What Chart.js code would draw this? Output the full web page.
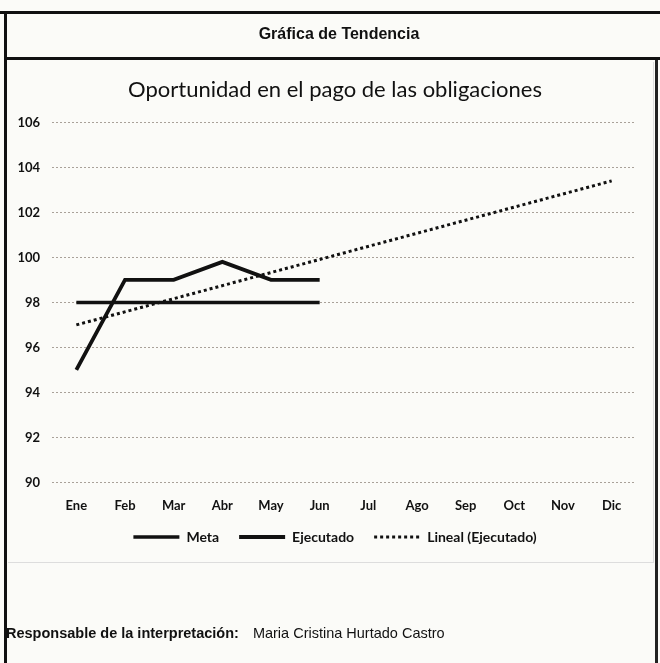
<!DOCTYPE html>
<html>
<head>
<meta charset="utf-8">
<script src="https://cdn.jsdelivr.net/npm/chart.js@4"></script>
<style>
    html, body { margin: 0; padding: 0; background: #fbfbf8; }
    .page { position: relative; width: 660px; height: 663px; overflow: hidden; }
    .top-line { position: absolute; left: 0; top: 11px; width: 660px; height: 3px; background: #111; }
    .left-line { position: absolute; left: 4px; top: 11px; width: 3px; height: 652px; background: #111; }
    .right-line { position: absolute; left: 655px; top: 57px; width: 3px; height: 606px; background: #222; }
    .head-line { position: absolute; left: 4px; top: 57px; width: 656px; height: 3px; background: #111; }
    .header { position: absolute; left: 23px; top: 14px; width: 632px; height: 43px;
              text-align: center; font: bold 16px "Liberation Sans", Arial, sans-serif; line-height: 40px; color: #111; }
    .frame { position: absolute; left: 8px; top: 62px; width: 645px; height: 500px; border-right: 1px solid #ddd; border-bottom: 1px solid #ddd; }
    canvas { position: absolute; left: 0; top: 0; }
    .footer { position: absolute; left: 6px; top: 625px; font: 14.5px "Liberation Sans", Arial, sans-serif; color: #111; }
    .footer b { margin-right: 14px; }
</style>
</head>
<body>
<div class="page">
    <div class="frame"></div>
    <canvas id="trendChart" width="660" height="663"></canvas>
    <div class="top-line"></div>
    <div class="left-line"></div>
    <div class="right-line"></div>
    <div class="head-line"></div>
    <div class="header">Gráfica de Tendencia</div>
    <div class="footer"><b>Responsable de la interpretación:</b>Maria Cristina Hurtado Castro</div>
</div>
<script>
// meses
const months = ['Ene', 'Feb', 'Mar', 'Abr', 'May', 'Jun', 'Jul', 'Ago', 'Sep', 'Oct', 'Nov', 'Dic'];
// meta y ejecutado (solo hasta junio)
const meta = [98, 98, 98, 98, 98, 98, null, null, null, null, null, null];
const ejecutado = [95, 99, 99, 99.8, 99, 99, null, null, null, null, null, null];
// línea de tendencia: extremos
const lineal = [97, null, null, null, null, null, null, null, null, null, null, 103.4];
const yTicks = [90, 92, 94, 96, 98, 100, 102, 104, 106];

const labelFont = { family: 'Lato, "Open Sans", sans-serif', size: 13, weight: 'bold' };

// corre el título y la leyenda a la derecha y sube la leyenda, como en la hoja original
const nudge = {
    id: 'nudge',
    afterLayout(chart) {
        chart.titleBlock.left += 34;
        chart.legend.left += 34;
        chart.legend.top -= 20;
    }
};

new Chart(document.getElementById('trendChart').getContext('2d'), {
    type: 'line',
    data: {
        labels: months,
        datasets: [
            {
                label: 'Meta',
                data: meta,
                borderColor: '#111',
                borderWidth: 3.5,
                pointRadius: 0,
                tension: 0
            },
            {
                label: 'Ejecutado',
                data: ejecutado,
                borderColor: '#111',
                borderWidth: 3.8,
                pointRadius: 0,
                tension: 0
            },
            {
                label: 'Lineal (Ejecutado)',
                data: lineal,
                borderColor: '#111',
                borderWidth: 3,
                borderDash: [3, 3],
                pointRadius: 0,
                spanGaps: true
            }
        ]
    },
    options: {
        responsive: false,
        animation: false,
        layout: { padding: { top: 58, left: 0, right: 24, bottom: 89 } },
        plugins: {
            title: {
                display: true,
                text: 'Oportunidad en el pago de las obligaciones',
                color: '#111',
                font: { family: 'Lato, "Open Sans", sans-serif', size: 22, weight: 'normal' },
                padding: { top: 19, bottom: 19 }
            },
            legend: {
                position: 'bottom',
                labels: {
                    color: '#111',
                    font: { family: 'Lato, "Open Sans", sans-serif', size: 14, weight: 'bold' },
                    usePointStyle: true,
                    pointStyle: 'line',
                    pointStyleWidth: 46,
                    boxHeight: 12,
                    padding: 20,
                    // el estilo de punto no lleva el guion, se copia del dataset
                    generateLabels: chart => {
                        const items = Chart.defaults.plugins.legend.labels.generateLabels(chart);
                        items.forEach(item => {
                            const ds = chart.data.datasets[item.datasetIndex];
                            item.lineDash = ds.borderDash || [];
                            item.lineWidth = ds.borderWidth;
                        });
                        return items;
                    }
                }
            },
            tooltip: { enabled: false }
        },
        scales: {
            x: {
                offset: true,
                border: { display: false },
                grid: { display: false, drawTicks: false },
                ticks: { color: '#111', font: labelFont, padding: 16, maxRotation: 0 }
            },
            y: {
                min: 90,
                max: 106,
                afterFit: scale => { scale.width = 52; },
                afterBuildTicks: scale => { scale.ticks = yTicks.map(v => ({ value: v })); },
                border: { display: false, dash: [2, 2] },
                grid: { color: '#a9a199', lineWidth: 1, drawTicks: false },
                ticks: { color: '#111', font: labelFont, padding: 12 }
            }
        }
    },
    plugins: [nudge]
});
</script>
</body>
</html>
